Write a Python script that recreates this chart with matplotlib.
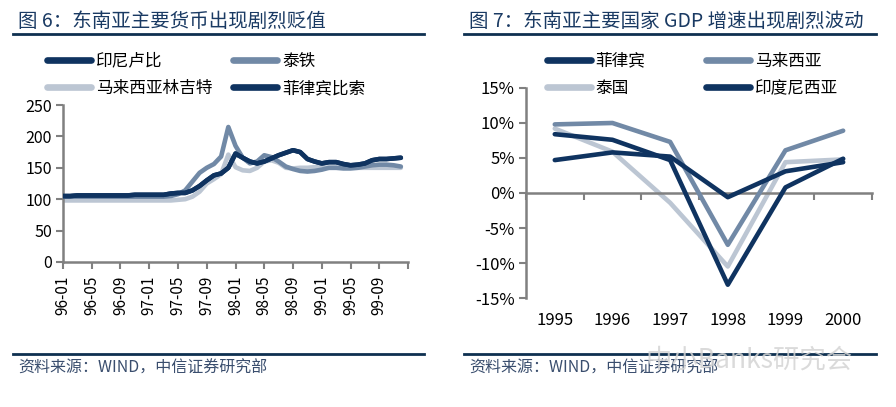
import matplotlib
matplotlib.use('Agg')
import matplotlib.pyplot as plt
from matplotlib.lines import Line2D
from matplotlib.ticker import FuncFormatter

plt.rcParams['font.family'] = ['Noto Sans CJK SC', 'DejaVu Sans']

NAVY = '#0F3360'
MID = '#7189A6'
LIGHT = '#BCC6D3'
TITLE_C = '#1A3A63'
AXIS_C = '#808080'

# ---------------- data: currencies (index, 96-01 = 100) ----------------
months = ['%02d-%02d' % (y, m) for y in (96, 97, 98, 99) for m in range(1, 13)]
tick_months = months[::4]

idr = [105, 105, 106, 106, 106, 106, 106, 106, 106, 106, 107, 107,
       107, 107, 107, 109, 110, 110, 114, 121, 130, 138, 141, 150,
       173, 166, 160, 157, 160, 165, 170, 174, 178, 175, 164, 160,
       157, 159, 159, 156, 154, 155, 157, 162, 164, 164, 165, 166]
thb = [104, 104, 104, 104, 104, 104, 104, 104, 104, 104, 104, 104,
       104, 104, 104, 105, 108, 114, 128, 142, 150, 156, 168, 215,
       185, 166, 157, 160, 170, 167, 160, 152, 148, 145, 144, 145,
       147, 150, 150, 149, 149, 150, 152, 154, 155, 155, 154, 152]
myr = [98, 98, 98, 98, 98, 98, 98, 98, 98, 98, 98, 98,
       98, 98, 98, 98, 99, 100, 104, 112, 125, 132, 140, 171,
       151, 146, 145, 150, 160, 162, 158, 150, 149, 150, 150, 151,
       151, 150, 150, 150, 150, 150, 150, 150, 150, 150, 150, 150]
php = [105, 105, 106, 106, 106, 106, 106, 106, 106, 106, 107, 107,
       107, 107, 107, 109, 110, 110, 114, 121, 130, 138, 141, 150,
       172, 166, 160, 157, 160, 165, 170, 174, 178, 175, 164, 160,
       157, 159, 159, 156, 154, 155, 157, 162, 164, 164, 165, 166]

# ---------------- data: GDP growth ----------------
years = ['1995', '1996', '1997', '1998', '1999', '2000']
gdp_ph = [4.7, 5.8, 5.2, -0.6, 3.1, 4.4]
gdp_my = [9.8, 10.0, 7.3, -7.4, 6.1, 8.9]
gdp_th = [9.2, 5.9, -1.4, -10.5, 4.4, 4.8]
gdp_id = [8.4, 7.6, 4.7, -13.1, 0.8, 4.9]

fig = plt.figure(figsize=(8.96, 4.07), dpi=100)

# ================= left chart =================
ax1 = fig.add_axes([0.0703, 0.3563, 0.3851, 0.3857])
x = list(range(len(months)))
l_myr, = ax1.plot(x, myr, color=LIGHT, lw=3.3, zorder=2)
l_thb, = ax1.plot(x, thb, color=MID, lw=3.3, zorder=3)
l_php, = ax1.plot(x, php, color=NAVY, lw=3.3, zorder=4)
l_idr, = ax1.plot(x, idr, color=NAVY, lw=3.3, zorder=5)
for l in (l_myr, l_thb, l_php, l_idr):
    l.set_solid_capstyle('round')
    l.set_solid_joinstyle('round')

ax1.set_xlim(0, 48)
ax1.set_ylim(0, 250)
ax1.set_yticks(range(0, 251, 50))
ax1.set_xticks(range(0, 49, 4))
ax1.set_xticklabels(tick_months + [''], rotation=90, fontsize=11)
ax1.tick_params(axis='y', labelsize=11.5, length=5, width=1.5, color=AXIS_C, direction='out', pad=3)
ax1.tick_params(axis='x', length=5, width=1.5, color=AXIS_C, direction='out', pad=5)
for s in ('top', 'right'):
    ax1.spines[s].set_visible(False)
for s in ('left', 'bottom'):
    ax1.spines[s].set_color(AXIS_C)
    ax1.spines[s].set_linewidth(1.8)
ax1.set_facecolor('none')

leg1 = fig.legend([l_idr, l_myr, l_thb, l_php],
                  ['印尼卢比', '马来西亚林吉特', '泰铁', '菲律宾比索'],
                  ncol=2, loc='upper left', bbox_to_anchor=(0.052, 0.871),
                  frameon=False, fontsize=12, handlelength=2.65,
                  handletextpad=0.3, columnspacing=1.25, labelspacing=0.62,
                  borderaxespad=0, borderpad=0)
for h in leg1.legend_handles:
    h.set_linewidth(4.8)
    h.set_solid_capstyle('round')

# ================= right chart =================
ax2 = fig.add_axes([0.587, 0.2678, 0.3862, 0.516])
xi = list(range(len(years)))
g_th, = ax2.plot(xi, [v / 100 for v in gdp_th], color=LIGHT, lw=3.3, zorder=2)
g_my, = ax2.plot(xi, [v / 100 for v in gdp_my], color=MID, lw=3.3, zorder=3)
g_ph, = ax2.plot(xi, [v / 100 for v in gdp_ph], color=NAVY, lw=3.3, zorder=4)
g_id, = ax2.plot(xi, [v / 100 for v in gdp_id], color=NAVY, lw=3.3, zorder=5)
for l in (g_th, g_my, g_ph, g_id):
    l.set_solid_capstyle('round')

ax2.set_xlim(-0.5, 5.5)
ax2.set_ylim(-0.15, 0.15)
ax2.set_yticks([-0.15, -0.10, -0.05, 0, 0.05, 0.10, 0.15])
ax2.yaxis.set_major_formatter(FuncFormatter(lambda v, p: '%d%%' % round(v * 100)))
ax2.set_xticks([i - 0.5 for i in range(len(years) + 1)])
ax2.set_xticklabels([])
ax2.spines['bottom'].set_position(('data', 0))
ax2.tick_params(axis='y', labelsize=12, length=5, width=1.5, color=AXIS_C, direction='out', pad=3)
ax2.tick_params(axis='x', length=5, width=1.5, color=AXIS_C, direction='out')
for s in ('top', 'right'):
    ax2.spines[s].set_visible(False)
for s in ('left', 'bottom'):
    ax2.spines[s].set_color(AXIS_C)
    ax2.spines[s].set_linewidth(1.8)
for i, yr in enumerate(years):
    ax2.text(i, -0.105, yr, transform=ax2.get_xaxis_transform(),
             ha='center', va='center', fontsize=12)
ax2.set_facecolor('none')

leg2 = fig.legend([g_ph, g_th, g_my, g_id],
                  ['菲律宾', '泰国', '马来西亚', '印度尼西亚'],
                  ncol=2, loc='upper left', bbox_to_anchor=(0.61, 0.871),
                  frameon=False, fontsize=12, handlelength=2.65,
                  handletextpad=0.3, columnspacing=3.6, labelspacing=0.62,
                  borderaxespad=0, borderpad=0)
for h in leg2.legend_handles:
    h.set_linewidth(4.8)
    h.set_solid_capstyle('round')

# ================= titles, rules, sources =================
W, H = 896.0, 407.0
for x0, x1, title in ((13, 424, '图 6：东南亚主要货币出现剧烈贬值'),
                      (464, 876, '图 7：东南亚主要国家 GDP 增速出现剧烈波动')):
    fig.text((x0 + 5) / W, 1 - 21 / H, title, fontsize=14, color=TITLE_C,
             ha='left', va='center')
    fig.add_artist(Line2D([x0 / W, x1 / W], [1 - 34 / H] * 2, color='#0E3050', lw=2))
    fig.add_artist(Line2D([x0 / W, x1 / W], [1 - 354 / H] * 2, color='#0E3050', lw=2))
    fig.text((x0 + 5) / W, 1 - 368 / H, '资料来源：WIND，中信证券研究部',
             fontsize=11.5, color='#3A4E6E', ha='left', va='center')

# faint watermark in the lower right
fig.text(645 / W, 1 - 360 / H, '中小Banks研究会', fontsize=19, color='#d4d4d4',
         alpha=0.85, ha='left', va='center', zorder=10)

fig.savefig('out.png', dpi=100)
